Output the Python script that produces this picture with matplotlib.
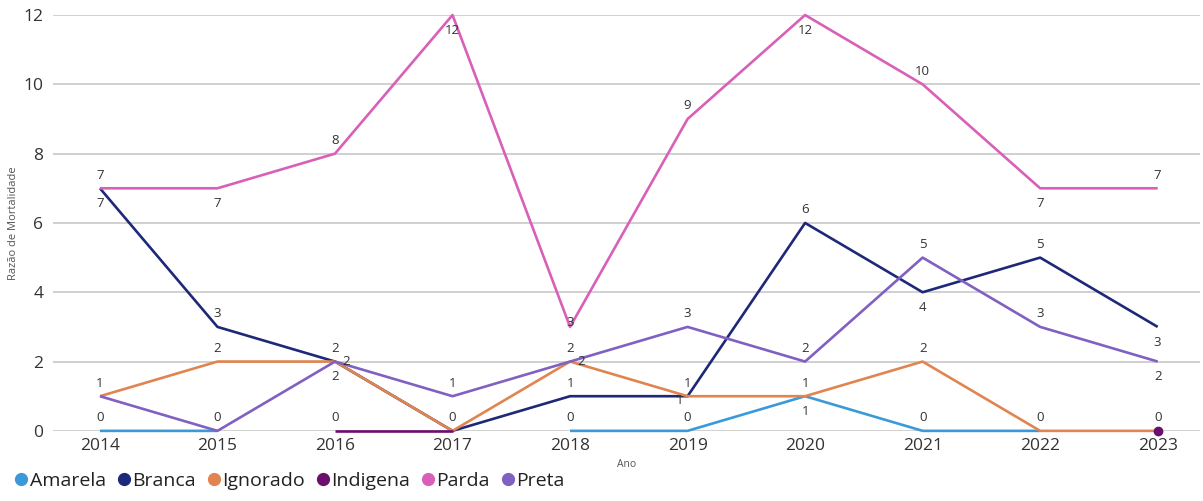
import numpy as np
import matplotlib
matplotlib.use("Agg")
import matplotlib.pyplot as plt
from matplotlib.lines import Line2D

plt.rcParams['font.family'] = ['Open Sans', 'DejaVu Sans']

years = [2014, 2015, 2016, 2017, 2018, 2019, 2020, 2021, 2022, 2023]
amarela = [0, 0, None, None, 0, 0, 1, 0, 0, None]
branca = [7, 3, 2, 0, 1, 1, 6, 4, 5, 3]
ignorado = [1, 2, 2, 0, 2, 1, 1, 2, 0, 0]
indigena = [None, None, 0, 0, None, None, None, None, None, 0]
parda = [7, 7, 8, 12, 3, 9, 12, 10, 7, 7]
preta = [1, 0, 2, 1, 2, 3, 2, 5, 3, 2]
series_names = ["Amarela", "Branca", "Ignorado", "Indigena", "Parda", "Preta"]

colors = {"Amarela": "#3A9AD9", "Branca": "#1E2878", "Ignorado": "#E0854F",
          "Indigena": "#6B0F6F", "Parda": "#D860B8", "Preta": "#8060C0"}

# label placement per point: 'a' above, 'b' below, 'r' right, 'l' left, '' none
label_pos = {
    "Amarela": ['a', '', '', '', 'a', 'a', 'b', 'a', '', ''],
    "Branca": ['b', 'a', 'a', '', 'a', 'a', 'a', 'b', 'a', 'b'],
    "Ignorado": ['a', 'a', 'r', 'a', 'r', 'l', 'a', 'a', 'a', ''],
    "Indigena": ['', '', 'a', '', '', '', '', '', '', 'a'],
    "Parda": ['a', 'b', 'a', 'b', 'c', 'a', 'b', 'a', 'b', 'a'],
    "Preta": ['', 'a', 'b', 'a', 'a', 'a', 'a', 'a', 'a', 'b'],
}

data = {"Amarela": amarela, "Branca": branca, "Ignorado": ignorado,
        "Indigena": indigena, "Parda": parda, "Preta": preta}

fig = plt.figure(figsize=(12.03, 5.01), dpi=100)
ax = fig.add_axes([0.044, 0.14, 0.9535, 0.83])

for name in series_names:
    vals = np.array([np.nan if v is None else v for v in data[name]], dtype=float)
    ax.plot(years, vals, color=colors[name], lw=1.9, solid_capstyle='butt', zorder=3,
            clip_on=False)
    # isolated points shown as dots
    for i, v in enumerate(vals):
        if np.isnan(v):
            continue
        left = np.isnan(vals[i - 1]) if i > 0 else True
        right = np.isnan(vals[i + 1]) if i < len(vals) - 1 else True
        if left and right:
            ax.plot(years[i], v, 'o', color=colors[name], ms=6, zorder=4, clip_on=False)
    for i, v in enumerate(vals):
        p = label_pos[name][i]
        if np.isnan(v) or not p:
            continue
        off = {'a': (0, 9.5), 'b': (0, -11), 'r': (8, 0), 'l': (-6, -3), 'c': (0, 3)}[p]
        ax.annotate(f"{int(v)}", (years[i], v), xytext=off, textcoords='offset points',
                    ha='center', va='center', fontsize=9.5, color='#333333', zorder=5)

ax.set_xlim(2013.6, 2023.36)
ax.set_ylim(0, 12)
ax.set_xticks(years)
ax.set_yticks([0, 2, 4, 6, 8, 10, 12])
ax.tick_params(axis='both', length=0, labelsize=12.5, colors='#333333')
ax.tick_params(axis='x', pad=5)
ax.tick_params(axis='y', pad=7)
ax.grid(axis='y', color='#C8C8C8', lw=1.2)
ax.set_axisbelow(True)
for s in ax.spines.values():
    s.set_visible(False)
ax.set_xlabel("Ano", fontsize=7.5, color='#555555', labelpad=4)
ax.set_ylabel("Razão de Mortalidade", fontsize=8, color='#555555')
ax.yaxis.set_label_coords(-0.03, 0.5)

handles = [Line2D([], [], marker='o', ls='', color=colors[n], ms=8.5) for n in series_names]
fig.legend(handles, series_names, loc='lower left', bbox_to_anchor=(-0.004, -0.012), ncol=6,
           frameon=False, fontsize=14, handletextpad=0.0, columnspacing=0.45,
           handlelength=0.9, labelcolor='#222222')

fig.savefig("out.png", dpi=100)
